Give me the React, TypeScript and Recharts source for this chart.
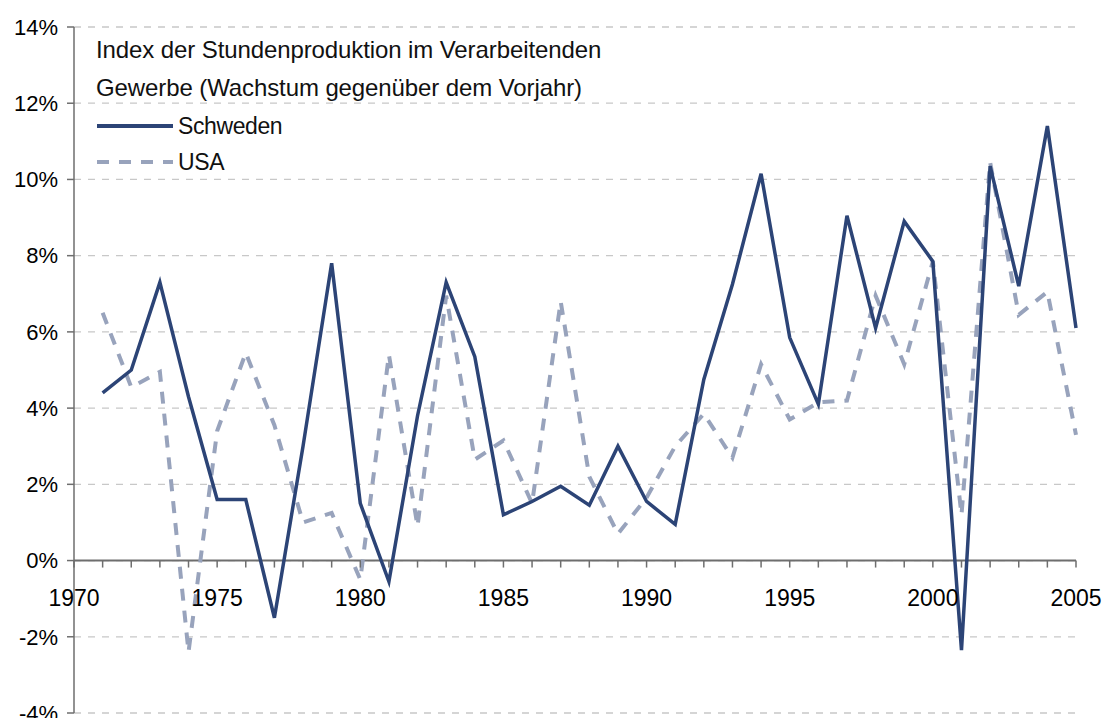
import React from 'react';
import {
  LineChart,
  Line,
  XAxis,
  YAxis,
  CartesianGrid,
  ReferenceLine,
  Legend,
} from 'recharts';

// years on the x axis
const years = [
  1971, 1972, 1973, 1974, 1975, 1976, 1977, 1978, 1979, 1980,
  1981, 1982, 1983, 1984, 1985, 1986, 1987, 1988, 1989, 1990,
  1991, 1992, 1993, 1994, 1995, 1996, 1997, 1998, 1999, 2000,
  2001, 2002, 2003, 2004, 2005,
];

// growth vs previous year, in %
const schweden = [
  4.4, 5.0, 7.3, 4.3, 1.6, 1.6, -1.5, 3.0, 7.8, 1.5,
  -0.55, 3.8, 7.3, 5.35, 1.2, 1.55, 1.95, 1.45, 3.0, 1.55,
  0.95, 4.75, 7.25, 10.15, 5.85, 4.1, 9.05, 6.1, 8.9, 7.85,
  -2.35, 10.35, 7.2, 11.4, 6.1,
];

const usa = [
  6.5, 4.55, 4.95, -2.4, 3.4, 5.45, 3.55, 1.0, 1.25, -0.5,
  5.4, 0.9, 6.95, 2.65, 3.15, 1.5, 6.8, 2.2, 0.7, 1.65,
  3.0, 3.85, 2.7, 5.15, 3.7, 4.15, 4.2, 6.95, 5.15, 7.85,
  1.2, 10.45, 6.45, 7.05, 3.3,
];

const xTicks = [
  1970, 1971, 1972, 1973, 1974, 1975, 1976, 1977, 1978, 1979,
  1980, 1981, 1982, 1983, 1984, 1985, 1986, 1987, 1988, 1989,
  1990, 1991, 1992, 1993, 1994, 1995, 1996, 1997, 1998, 1999,
  2000, 2001, 2002, 2003, 2004, 2005,
];
const yTicks = [-4, -2, 0, 2, 4, 6, 8, 10, 12, 14];

const titleLines = [
  'Index der Stundenproduktion im Verarbeitenden',
  'Gewerbe (Wachstum gegenüber dem Vorjahr)',
];

const data = years.map((year, i) => ({
  year,
  schweden: schweden[i],
  usa: usa[i],
}));

const WIDTH = 1103;
const HEIGHT = 718;
const X_AXIS_H = 1;
const MARGIN = { top: 27, right: 27, bottom: 4, left: 0 };
const Y_MIN = -4;
const Y_MAX = 14;
const FONT = '"Liberation Sans", Arial, sans-serif';
const AXIS_COLOR = '#6e6e6e';

// distance from the bottom of the plot up to the 0% line
const plotHeight = HEIGHT - MARGIN.top - MARGIN.bottom - X_AXIS_H;
const zeroShift = (plotHeight * (0 - Y_MIN)) / (Y_MAX - Y_MIN);

const renderYearTick = (props: any) => {
  const { x, y, payload } = props;
  const zy = y - zeroShift;
  const year = payload.value;
  return (
    <g key={`yt-${year}`}>
      <line x1={x} x2={x} y1={zy} y2={zy + 7} stroke={AXIS_COLOR} strokeWidth={1.5} />
      {year % 5 === 0 && (
        <text x={x} y={zy + 45} textAnchor="middle" fontSize={23} fontFamily={FONT} fill="#000">
          {year}
        </text>
      )}
    </g>
  );
};

const LegendBox = (props: any) => {
  const { payload } = props;
  return (
    <div style={{ fontFamily: FONT, fontSize: 24, color: '#111', whiteSpace: 'nowrap' }}>
      {titleLines.map((t) => (
        <div key={t} style={{ height: 38, lineHeight: '38px', letterSpacing: -0.1 }}>
          {t}
        </div>
      ))}
      {(payload || []).map((p: any, i: number) => (
        <div
          key={p.value}
          style={{ height: i === 0 ? 38 : 34, display: 'flex', alignItems: 'center' }}
        >
          <svg width={80} height={10} style={{ marginRight: 2 }}>
            <line
              x1={1}
              x2={77}
              y1={5}
              y2={5}
              stroke={p.color}
              strokeWidth={4}
              strokeDasharray={p.payload?.strokeDasharray}
            />
          </svg>
          <span style={{ letterSpacing: -0.4, fontSize: 23 }}>{p.value}</span>
        </div>
      ))}
    </div>
  );
};

const App: React.FC = () => {
  return (
    <div style={{ position: 'absolute', left: 0, top: 0, background: '#fff' }}>
      <LineChart width={WIDTH} height={HEIGHT} data={data} margin={MARGIN}>
        <CartesianGrid vertical={false} strokeDasharray="7 7" stroke="#c8c8c8" strokeWidth={1.3} />
        <XAxis
          dataKey="year"
          type="number"
          domain={[1970, 2005]}
          ticks={xTicks}
          interval={0}
          height={X_AXIS_H}
          axisLine={false}
          tickLine={false}
          tickSize={0}
          tickMargin={0}
          tick={renderYearTick}
        />
        <YAxis
          width={74}
          domain={[Y_MIN, Y_MAX]}
          ticks={yTicks}
          interval={0}
          tickFormatter={(v) => `${v}%`}
          stroke={AXIS_COLOR}
          axisLine={{ stroke: AXIS_COLOR, strokeWidth: 1.5 }}
          tickLine={{ stroke: AXIS_COLOR, strokeWidth: 1.5 }}
          tickSize={7}
          tickMargin={9}
          tick={{ fontSize: 22, fontFamily: FONT, fill: '#000' }}
        />
        <ReferenceLine y={0} stroke={AXIS_COLOR} strokeWidth={2} />
        <Legend
          layout="horizontal"
          verticalAlign="middle"
          align="center"
          content={<LegendBox />}
          wrapperStyle={{ top: 31, left: 96, width: 'auto', height: 'auto' }}
        />
        <Line
          type="linear"
          dataKey="usa"
          name="USA"
          stroke="#98a3bc"
          strokeWidth={4}
          strokeDasharray="12 10"
          dot={false}
          isAnimationActive={false}
        />
        <Line
          type="linear"
          dataKey="schweden"
          name="Schweden"
          stroke="#2c4476"
          strokeWidth={3.5}
          dot={false}
          isAnimationActive={false}
        />
      </LineChart>
    </div>
  );
};

export default App;
